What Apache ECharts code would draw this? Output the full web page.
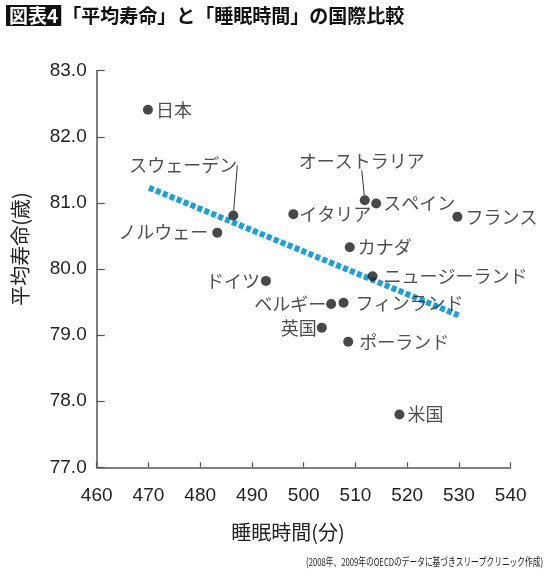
<!DOCTYPE html>
<html>
<head>
<meta charset="utf-8">
<title>平均寿命と睡眠時間の国際比較</title>
<script src="https://cdn.jsdelivr.net/npm/echarts@6/dist/echarts.min.js"></script>
<style>
  html, body { margin: 0; padding: 0; background: #fff; }
  #main { width: 550px; height: 575px; }
</style>
</head>
<body>
<div id="main"></div>
<script type="text/javascript">
// 国名・睡眠時間(分)・平均寿命(歳)
const countries = ['日本', 'スウェーデン', 'ノルウェー', 'ドイツ', 'オーストラリア', 'スペイン', 'イタリア',
    'フランス', 'カナダ', 'ニュージーランド', 'ベルギー', 'フィンランド', '英国', 'ポーランド', '米国'];
const sleepMinutes = [469.9, 486.4, 483.3, 492.7, 511.8, 514.0, 498.0,
    529.7, 508.9, 513.3, 505.3, 507.7, 503.5, 508.6, 518.5];
const lifeExpectancy = [82.41, 80.81, 80.55, 79.82, 81.04, 80.99, 80.83,
    80.79, 80.33, 79.89, 79.47, 79.49, 79.11, 78.90, 77.80];
// 近似線の両端
const trendX = [470.1, 529.9];
const trendY = [81.23, 79.30];
// 軸目盛
const xTicks = [460, 470, 480, 490, 500, 510, 520, 530, 540];
const yTicks = [77, 78, 79, 80, 81, 82, 83];

// ラベルの置き方(見た目の設定)
const labelStyle = {
    'スウェーデン': { position: 'top', line: true, dx: -50, dy: -31 },
    'オーストラリア': { position: 'top', line: true, dx: -3, dy: -20 },
    'ノルウェー': { position: 'left', distance: 4 },
    'ドイツ': { position: 'left', distance: 1 },
    'ベルギー': { position: 'left', distance: 0 },
    '英国': { position: 'left', distance: 0 },
    'ニュージーランド': { position: 'right', distance: 6 },
    'フィンランド': { position: 'right', distance: 7 },
    'ポーランド': { position: 'right', distance: 6, offset: [0, 1] },
    'スペイン': { position: 'right', distance: 2, offset: [0, -2] },
    'イタリア': { position: 'right', distance: 1, offset: [0, 3] }
};

const jp = '"Noto Sans CJK JP", "Noto Sans", sans-serif';

let points = countries.map((name, i) => {
    let s = labelStyle[name] || { position: 'right', distance: 3 };
    let item = {
        name: name,
        value: [sleepMinutes[i], lifeExpectancy[i]],
        label: {
            position: s.position,
            distance: s.distance === undefined ? 5 : s.distance,
            offset: s.offset || [0, 0]
        }
    };
    if (s.line) {
        item.labelLine = { show: true, lineStyle: { color: '#333', width: 1 } };
    }
    return item;
});

let myChart = echarts.init(document.getElementById('main'));
let option = {
    backgroundColor: '#fff',
    animation: false,
    title: {
        left: 1,
        top: 0,
        text: '{box|図表4}{t|「平均寿命」と「睡眠時間」の国際比較}',
        textStyle: {
            rich: {
                box: {
                    backgroundColor: '#111',
                    color: '#fff',
                    fontFamily: jp,
                    fontSize: 19,
                    fontWeight: 'bold',
                    padding: [1, 3, 1, 3]
                },
                t: {
                    color: '#111',
                    fontFamily: jp,
                    fontSize: 19,
                    fontWeight: 'bold',
                    padding: [0, 0, 0, 1]
                }
            }
        }
    },
    grid: { left: 96.7, right: 39.3, top: 70.7, bottom: 107.7 },
    xAxis: {
        type: 'value',
        min: xTicks[0],
        max: xTicks[xTicks.length - 1],
        interval: 10,
        axisLine: { lineStyle: { color: '#555', width: 1.5 } },
        axisTick: { inside: true, length: 5, lineStyle: { color: '#555', width: 1.2 } },
        axisLabel: { color: '#222', fontSize: 19, margin: 19, fontFamily: '"Liberation Sans", Arial, sans-serif' },
        splitLine: { show: false }
    },
    yAxis: {
        type: 'value',
        min: yTicks[0],
        max: yTicks[yTicks.length - 1],
        interval: 1,
        axisLine: { show: true, lineStyle: { color: '#555', width: 1.5 } },
        axisTick: { show: true, inside: true, length: 8, lineStyle: { color: '#555', width: 1.2 } },
        axisLabel: {
            color: '#222', fontSize: 19, margin: 10,
            fontFamily: '"Liberation Sans", Arial, sans-serif',
            formatter: v => v.toFixed(1)
        },
        splitLine: { show: false }
    },
    graphic: [
        {
            type: 'text', x: 20, y: 249, rotation: Math.PI / 2,
            style: { text: '平均寿命(歳)', fontSize: 20, fontFamily: jp, fill: '#222', align: 'center', verticalAlign: 'middle' }
        },
        {
            type: 'text', x: 288, y: 532,
            style: { text: '睡眠時間(分)', fontSize: 20, fontFamily: jp, fill: '#222', align: 'center', verticalAlign: 'middle' }
        },
        {
            type: 'text', x: 543, y: 562, scaleX: 0.7,
            style: { text: '(2008年、2009年のOECDのデータに基づきスリープクリニック作成)', fontSize: 11, fontFamily: jp, fill: '#222', align: 'right', verticalAlign: 'middle' }
        }
    ],
    series: [
        {
            name: '近似線',
            type: 'line',
            data: [[trendX[0], trendY[0]], [trendX[1], trendY[1]]],
            symbol: 'none',
            lineStyle: { color: '#1aa0de', width: 6, type: [5, 2.5] },
            z: 2,
            silent: true
        },
        {
            name: '国',
            type: 'scatter',
            data: points,
            symbolSize: 10,
            itemStyle: { color: '#1a1a1a' },
            z: 5,
            label: {
                show: true,
                formatter: '{b}',
                color: '#222',
                fontSize: 18,
                fontFamily: jp
            },
            labelLayout: function (params) {
                let s = labelStyle[countries[params.dataIndex]];
                if (s && s.line) {
                    return { dx: s.dx, dy: s.dy };
                }
                return {};
            }
        }
    ]
};
myChart.setOption(option);
</script>
</body>
</html>
